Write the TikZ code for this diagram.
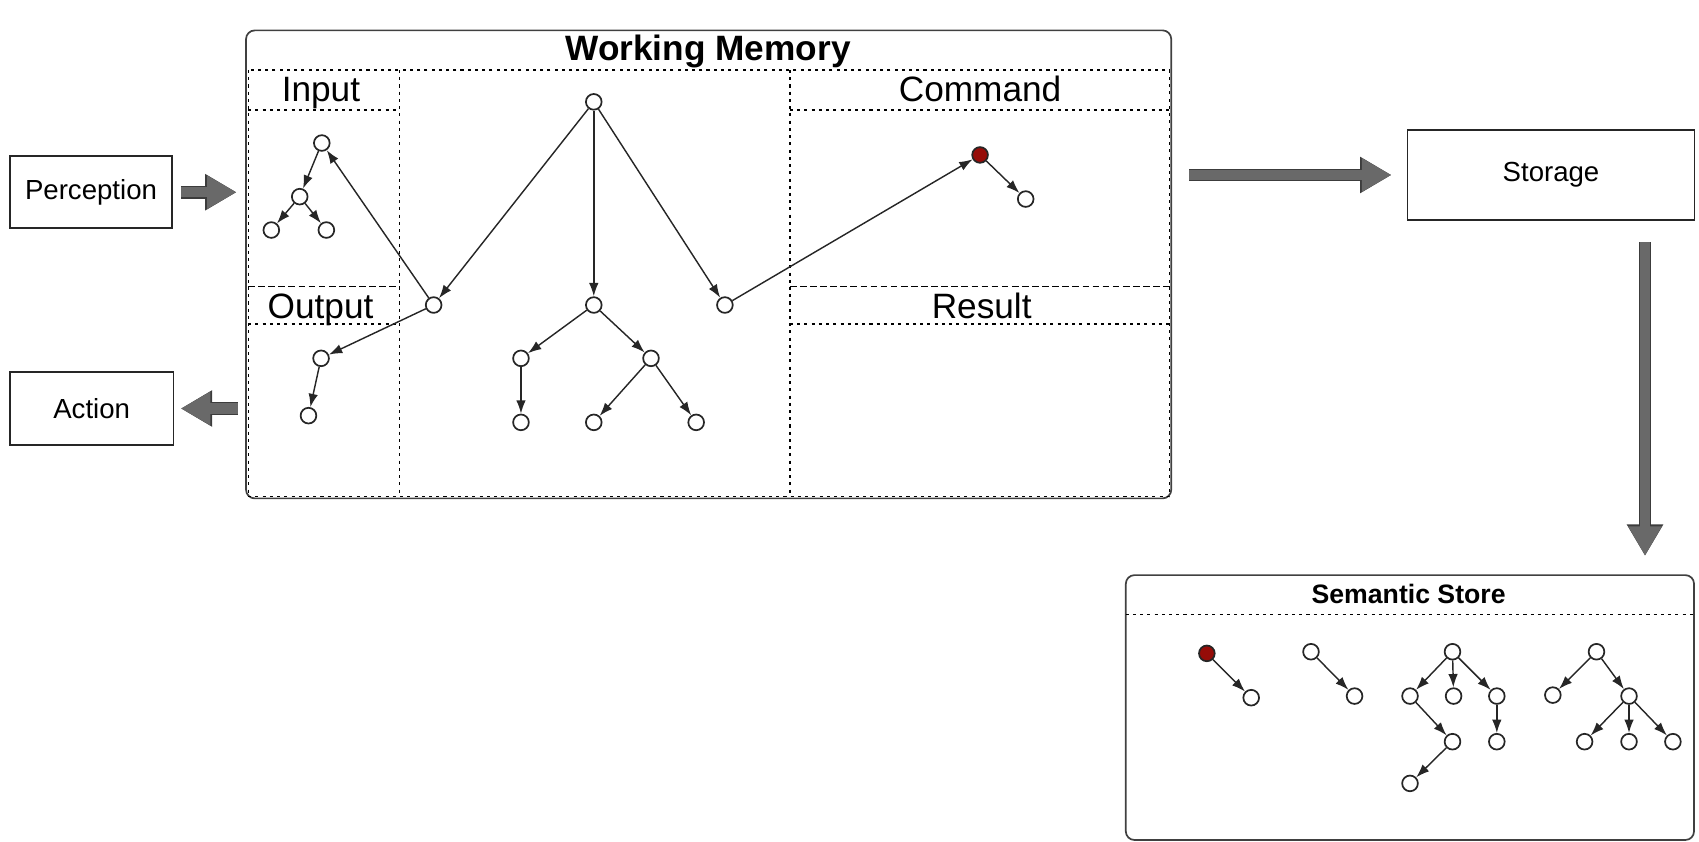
\documentclass[tikz,border=0pt]{standalone}
\usepackage{fontspec}
\setmainfont{Liberation Sans}
\usetikzlibrary{arrows.meta}

\definecolor{nodered}{RGB}{150,12,8}
\definecolor{fatgray}{RGB}{105,105,105}
\definecolor{fatedge}{RGB}{60,60,60}

\tikzset{
  vert/.style={circle, draw=black!85, fill=white, line width=0.9pt, inner sep=0pt, minimum size=0.29cm},
  redvert/.style={vert, fill=nodered},
  link/.style={-{Latex[length=7pt,width=5pt]}, line width=0.75pt, draw=black!85},
  fatarrow/.style={draw=fatgray, line width=5.4pt, -{Triangle[length=15.5pt,width=16.5pt]},
    preaction={draw=fatedge, line width=6.6pt, -{Triangle[length=16.5pt,width=18pt]}}},
  plainbox/.style={draw=black!85, line width=0.9pt, rectangle, inner sep=0pt, font=\fontsize{14.5}{17}\selectfont},
  membox/.style={draw=black!75, line width=0.9pt, rectangle, rounded corners=0.16cm, inner sep=0pt},
  panel/.style={line width=0.65pt, dash pattern=on 1.6pt off 2.2pt},
  paneltitle/.style={anchor=base, font=\fontsize{18.5}{21}\selectfont},
  boxtitle/.style={anchor=base, font=\bfseries\fontsize{18.5}{21}\selectfont},
}

\begin{document}
\begin{tikzpicture}[x=0.02cm, y=-0.02cm]
\useasboundingbox (0,0) rectangle (1568,777);

% boxes
\node[plainbox, minimum width=2.99cm, minimum height=1.33cm] (perc) at (84,177.4) {Perception};
\node[plainbox, minimum width=3.02cm, minimum height=1.34cm] (act) at (84.6,377) {Action};
\node[plainbox, minimum width=5.3cm, minimum height=1.66cm] (store) at (1431.4,161.5) {Storage};
\node[membox, minimum width=17.08cm, minimum height=8.64cm] (wmem) at (654,244) {};
\node[membox, minimum width=10.49cm, minimum height=4.89cm] (sem) at (1301.2,653) {};

% working memory panels
\draw[panel] (229,64.6) rectangle (1079.5,458.5);
\draw[panel] (368.7,64.6) -- (368.7,458.5);
\draw[panel] (729,64.6) -- (729,458.5);
\draw[panel] (229,101.5) -- (368.7,101.5);
\draw[panel] (729,101.5) -- (1079.5,101.5);
\draw[panel, dash pattern=on 3.5pt off 1.8pt] (229,264.6) -- (368.7,264.6);
\draw[panel, dash pattern=on 3.5pt off 1.8pt] (729,264.6) -- (1079.5,264.6);
\draw[panel] (229,299) -- (368.7,299);
\draw[panel] (729,299) -- (1079.5,299);
\draw[panel] (1038.8,567) -- (1563.5,567);

% titles
\node[boxtitle] (wmtitle) at (653.5,55.4) {Working Memory};
\node[paneltitle] (inlab) at (296.2,94) {Input};
\node[paneltitle] (cmdlab) at (904.5,94) {Command};
\node[paneltitle] (outlab) at (295.8,294) {Output};
\node[paneltitle] (reslab) at (906,294) {Result};
\node[boxtitle, font=\bfseries\fontsize{14}{16}\selectfont] (semtitle) at (1300,556.8) {Semantic Store};

% working memory graph
\node[vert] (c0) at (548,94) {};
\node[vert] (c1) at (400.2,281.5) {};
\node[vert] (c2) at (548,281.5) {};
\node[vert] (c3) at (669,281.5) {};
\node[vert] (c4) at (480.8,330.7) {};
\node[vert] (c5) at (600.8,330.7) {};
\node[vert] (c6) at (480.8,389.8) {};
\node[vert] (c7) at (548,389.8) {};
\node[vert] (c8) at (642.5,389.8) {};
\node[vert] (in1) at (297,132) {};
\node[vert] (in2) at (276.6,181.5) {};
\node[vert] (in3) at (250.4,212.3) {};
\node[vert] (in4) at (301.2,212.3) {};
\node[vert] (out1) at (296.3,330.7) {};
\node[vert] (out2) at (284.7,383.6) {};
\node[redvert] (cmd1) at (904.5,143) {};
\node[vert] (cmd2) at (946.6,183.7) {};

% semantic store graphs
\node[redvert] (s1) at (1113.8,603) {};
\node[vert] (s2) at (1154.7,643.9) {};
\node[vert] (s3) at (1209.9,601.5) {};
\node[vert] (s4) at (1250.1,642.4) {};
\node[vert] (t0) at (1340.5,601.5) {};
\node[vert] (t1) at (1301.3,642.4) {};
\node[vert] (t2) at (1341.5,642.4) {};
\node[vert] (t3) at (1381.4,642.4) {};
\node[vert] (t4) at (1340.5,684.5) {};
\node[vert] (t5) at (1381.4,684.5) {};
\node[vert] (t6) at (1301.3,723) {};
\node[vert] (u0) at (1473.4,601.5) {};
\node[vert] (u1) at (1433.1,641.5) {};
\node[vert] (u2) at (1503.4,642.4) {};
\node[vert] (u3) at (1462.4,684.5) {};
\node[vert] (u4) at (1503.4,684.5) {};
\node[vert] (u5) at (1543.9,684.5) {};

\foreach \a/\b in {c0/c1, c0/c2, c0/c3, c1/in1, c1/out1, c3/cmd1, cmd1/cmd2,
    in1/in2, in2/in3, in2/in4, out1/out2, c2/c4, c2/c5, c4/c6, c5/c7, c5/c8,
    s1/s2, s3/s4, t0/t1, t0/t2, t0/t3, t1/t4, t4/t6, t3/t5,
    u0/u1, u0/u2, u2/u3, u2/u4, u2/u5}
  \draw[link] (\a) -- (\b);

% big arrows
\draw[fatarrow, shorten <=0.15cm, shorten >=0.16cm] (perc.east) -- (perc.east -| wmem.west);
\draw[fatarrow, shorten <=0.14cm, shorten >=0.12cm] (act.east -| wmem.west) -- (act.east);
\draw[fatarrow, shorten <=0.32cm, shorten >=0.28cm] (store.west -| wmem.east) -- (store.west);
\draw[fatarrow, shorten <=0.4cm, shorten >=0.34cm] ([xshift=-0.93cm]store.south east) -- ([xshift=-0.93cm]store.south east |- sem.north);
\end{tikzpicture}
\end{document}
